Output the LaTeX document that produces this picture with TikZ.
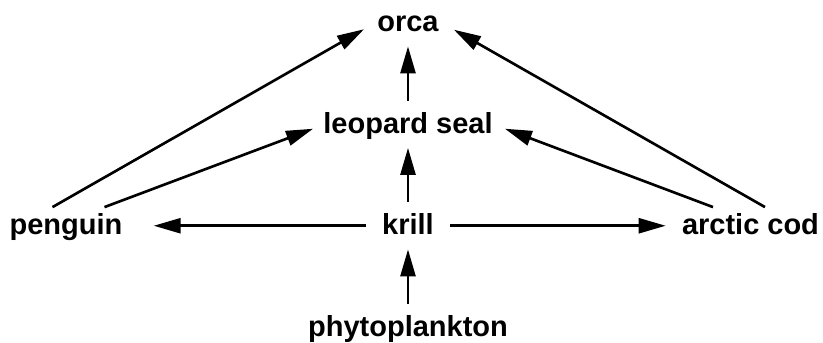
\documentclass[tikz,border=0pt]{standalone}
\usepackage{fontspec}
\setmainfont{Liberation Sans}
\usepackage{tikz}
\usetikzlibrary{arrows.meta}
\usetikzlibrary{positioning}
\usetikzlibrary{calc}

\begin{document}
\begin{tikzpicture}[node distance = 2.03cm, auto]
% Define block styles
\tikzstyle{species} = [font=\fontsize{16.5}{19}\selectfont\bfseries,
    text height=0.51cm, text depth=0.142cm, inner xsep=0.32cm, inner ysep=0.14cm]
\tikzstyle{line} = [draw, line width=1.5pt, -{Triangle[length=0.54cm, width=0.3cm]}]

    \useasboundingbox (-8.16,-2.325) rectangle (8.30,4.515);
    % Place nodes
    \node [species] (krill) {krill};
    \node [species, above of=krill] (seal) {leopard seal};
    \node [species, above of=seal] (orca) {orca};
    \node [species, below of=krill] (phyto) {phytoplankton};
    \node [species, left of=krill, node distance=6.84cm] (penguin) {penguin};
    \node [species, right of=krill, node distance=6.85cm] (cod) {arctic cod};
    % Draw edges
    \path [line] (phyto) -- (krill);
    \path [line] (krill) -- (seal);
    \path [line] (seal) -- (orca);
    \path [line, shorten >=0.3cm] (krill) -- (penguin);
    \path [line] (krill) -- (cod);
    \path [line] ([shift={(-0.27,-0.1)}]penguin.north) -- ([shift={(0.06,-0.13)}]orca.west);
    \path [line] ([shift={(0.77,-0.1)}]penguin.north) -- ([shift={(0.12,-0.09)}]seal.west);
    \path [line] ([shift={(0.29,-0.1)}]cod.north) -- ([shift={(-0.02,-0.14)}]orca.east);
    \path [line] ([shift={(-0.75,-0.1)}]cod.north) -- ([shift={(-0.08,-0.09)}]seal.east);
\end{tikzpicture}
\end{document}
